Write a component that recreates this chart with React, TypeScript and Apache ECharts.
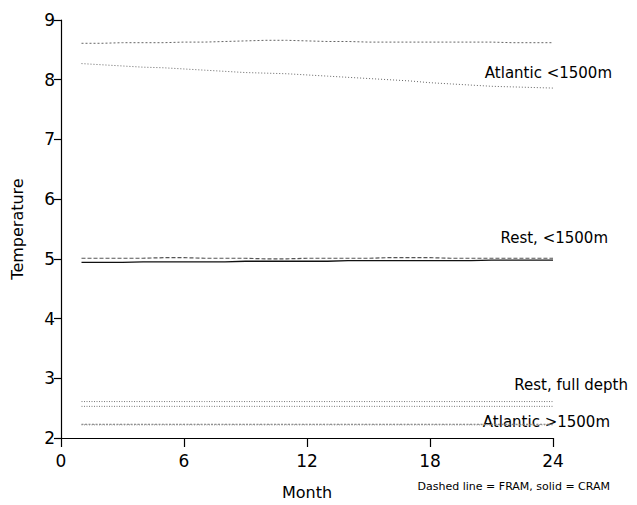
import React, { useEffect, useRef } from "react";
import * as echarts from "echarts";

const months = [1,2,3,4,5,6,7,8,9,10,11,12,13,14,15,16,17,18,19,20,21,22,23,24];
const atlShallowFram = [8.61,8.61,8.62,8.62,8.62,8.63,8.63,8.64,8.65,8.66,8.66,8.65,8.64,8.64,8.63,8.63,8.63,8.63,8.63,8.63,8.63,8.62,8.62,8.62];
const atlShallowCram = [8.27,8.25,8.23,8.21,8.2,8.18,8.16,8.14,8.12,8.11,8.1,8.08,8.06,8.04,8.02,8.0,7.98,7.95,7.93,7.91,7.89,7.88,7.87,7.86];
const restShallowFram = [5.01,5.01,5.01,5.01,5.02,5.02,5.01,5.01,5.01,5.0,5.0,5.01,5.01,5.01,5.01,5.02,5.02,5.02,5.01,5.01,5.01,5.01,5.01,5.01];
const restShallowCram = [4.94,4.94,4.94,4.95,4.95,4.95,4.95,4.95,4.96,4.96,4.96,4.96,4.96,4.97,4.97,4.97,4.97,4.97,4.97,4.97,4.98,4.98,4.98,4.98];
const restFullFram = [2.61,2.61,2.61,2.61,2.61,2.61,2.61,2.61,2.61,2.61,2.61,2.61,2.61,2.61,2.61,2.61,2.61,2.61,2.61,2.61,2.61,2.61,2.61,2.61];
const restFullCram = [2.53,2.53,2.53,2.53,2.53,2.53,2.53,2.53,2.53,2.53,2.53,2.53,2.53,2.53,2.53,2.53,2.53,2.53,2.53,2.53,2.53,2.53,2.53,2.53];
const atlDeepFram = [2.23,2.23,2.23,2.23,2.23,2.23,2.23,2.23,2.23,2.23,2.23,2.23,2.23,2.23,2.23,2.23,2.23,2.23,2.23,2.23,2.23,2.23,2.23,2.23];
const atlDeepCram = [2.22,2.22,2.22,2.22,2.22,2.22,2.22,2.22,2.22,2.22,2.22,2.22,2.22,2.22,2.22,2.22,2.22,2.22,2.22,2.22,2.22,2.22,2.22,2.22];

const FONT = "DejaVu Sans";

function mk(data: number[], color: string, type: any, width = 1) {
  return {
    type: "line",
    data: months.map((m, i) => [m, data[i]]),
    showSymbol: false,
    lineStyle: { color, type, width },
    silent: true,
  };
}

export default function App() {
  const ref = useRef<HTMLDivElement>(null);
  useEffect(() => {
    const chart = echarts.init(ref.current!, null, { renderer: "svg" });
    chart.setOption({
      animation: false,
      backgroundColor: "#fff",
      grid: { left: 61, right: 84, top: 20, bottom: 67 },
      xAxis: {
        type: "value",
        min: 0,
        max: 24,
        interval: 6,
        name: "Month",
        nameLocation: "middle",
        nameGap: 46,
        nameTextStyle: { fontFamily: FONT, fontSize: 16, color: "#000" },
        axisLine: { lineStyle: { color: "#000", width: 1.2 } },
        axisTick: { length: 9, lineStyle: { color: "#000", width: 1.2 } },
        axisLabel: { fontFamily: FONT, fontSize: 17, color: "#000", margin: 14 },
        splitLine: { show: false },
      },
      yAxis: {
        type: "value",
        min: 2,
        max: 9,
        interval: 1,
        name: "Temperature",
        nameLocation: "middle",
        nameGap: 36,
        nameRotate: 90,
        nameTextStyle: { fontFamily: FONT, fontSize: 16, color: "#000" },
        axisLine: { lineStyle: { color: "#000", width: 1.2 } },
        axisTick: { length: 7, lineStyle: { color: "#000", width: 1.2 } },
        axisLabel: { fontFamily: FONT, fontSize: 17, color: "#000", margin: 6 },
        splitLine: { show: false },
      },
      series: [
        mk(atlShallowFram, "#666", [2, 2]),
        mk(atlShallowCram, "#666", [1, 2]),
        mk(restShallowFram, "#555", [4, 2], 1.2),
        mk(restShallowCram, "#111", "solid", 1.3),
        mk(restFullFram, "#777", [1, 1.5]),
        mk(restFullCram, "#777", [1, 1.5]),
        mk(atlDeepFram, "#777", [2, 1.5]),
        mk(atlDeepCram, "#888", [1, 1.5]),
      ],
      graphic: [
        { type: "text", right: 25, top: 65, style: { text: "Atlantic <1500m", font: `15px '${FONT}'`, fill: "#000" } },
        { type: "text", right: 29, top: 230, style: { text: "Rest, <1500m", font: `15px '${FONT}'`, fill: "#000" } },
        { type: "text", right: 9, top: 377, style: { text: "Rest, full depth", font: `15px '${FONT}'`, fill: "#000" } },
        { type: "text", right: 27, top: 414, style: { text: "Atlantic >1500m", font: `15px '${FONT}'`, fill: "#000" } },
        { type: "text", right: 27, top: 481, style: { text: "Dashed line = FRAM, solid = CRAM", font: `11px '${FONT}'`, fill: "#000" } },
      ],
    });
    return () => chart.dispose();
  }, []);
  return <div ref={ref} style={{ width: 637, height: 505, position: "absolute", left: 0, top: 0 }} />;
}
